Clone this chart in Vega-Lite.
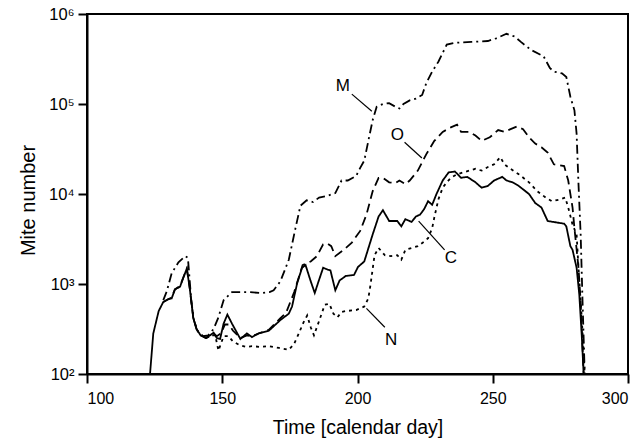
{
  "$schema": "https://vega.github.io/schema/vega-lite/v6.json",
  "autosize": "none",
  "width": 541,
  "height": 360,
  "padding": {"left": 87, "top": 14, "right": 16, "bottom": 65},
  "background": "white",
  "config": {
    "view": {"stroke": "black", "strokeWidth": 2},
    "font": "Liberation Sans",
    "axis": {
      "grid": false,
      "domainColor": "black",
      "domainWidth": 2,
      "tickColor": "black",
      "tickWidth": 2,
      "tickSize": 9,
      "labelColor": "black",
      "labelFont": "Liberation Sans",
      "labelFontSize": 16.5,
      "titleColor": "black",
      "titleFont": "Liberation Sans",
      "titleFontSize": 19.5,
      "titleFontWeight": "normal"
    }
  },
  "datasets": {
    "curves": [
      {"series": "C", "day": 123.3, "mites": 100},
      {"series": "C", "day": 124.5, "mites": 282},
      {"series": "C", "day": 125.7, "mites": 398},
      {"series": "C", "day": 126.5, "mites": 501},
      {"series": "C", "day": 128.2, "mites": 631},
      {"series": "C", "day": 130.0, "mites": 676},
      {"series": "C", "day": 131.3, "mites": 692},
      {"series": "C", "day": 132.5, "mites": 871},
      {"series": "C", "day": 134.4, "mites": 933},
      {"series": "C", "day": 135.6, "mites": 1175},
      {"series": "C", "day": 136.9, "mites": 1479},
      {"series": "C", "day": 138.0, "mites": 891},
      {"series": "C", "day": 139.3, "mites": 417},
      {"series": "C", "day": 140.5, "mites": 316},
      {"series": "C", "day": 142.0, "mites": 269},
      {"series": "C", "day": 144.0, "mites": 251},
      {"series": "C", "day": 145.5, "mites": 269},
      {"series": "C", "day": 146.8, "mites": 288},
      {"series": "C", "day": 148.0, "mites": 251},
      {"series": "C", "day": 149.2, "mites": 245},
      {"series": "C", "day": 150.5, "mites": 363},
      {"series": "C", "day": 151.9, "mites": 457},
      {"series": "C", "day": 153.6, "mites": 363},
      {"series": "C", "day": 156.7, "mites": 245},
      {"series": "C", "day": 159.1, "mites": 282},
      {"series": "C", "day": 161.0, "mites": 257},
      {"series": "C", "day": 163.4, "mites": 282},
      {"series": "C", "day": 167.2, "mites": 302},
      {"series": "C", "day": 171.5, "mites": 398},
      {"series": "C", "day": 174.6, "mites": 468},
      {"series": "C", "day": 175.8, "mites": 562},
      {"series": "C", "day": 177.7, "mites": 1023},
      {"series": "C", "day": 179.5, "mites": 1514},
      {"series": "C", "day": 180.8, "mites": 1622},
      {"series": "C", "day": 182.6, "mites": 1096},
      {"series": "C", "day": 184.2, "mites": 794},
      {"series": "C", "day": 185.5, "mites": 1047},
      {"series": "C", "day": 187.3, "mites": 1514},
      {"series": "C", "day": 189.0, "mites": 1445},
      {"series": "C", "day": 190.0, "mites": 1413},
      {"series": "C", "day": 191.8, "mites": 851},
      {"series": "C", "day": 193.4, "mites": 1096},
      {"series": "C", "day": 195.7, "mites": 1230},
      {"series": "C", "day": 198.7, "mites": 1259},
      {"series": "C", "day": 200.2, "mites": 1549},
      {"series": "C", "day": 202.5, "mites": 1778},
      {"series": "C", "day": 205.6, "mites": 3548},
      {"series": "C", "day": 207.8, "mites": 5623},
      {"series": "C", "day": 209.4, "mites": 6607},
      {"series": "C", "day": 211.7, "mites": 5012},
      {"series": "C", "day": 214.7, "mites": 5012},
      {"series": "C", "day": 216.2, "mites": 4365},
      {"series": "C", "day": 217.7, "mites": 5248},
      {"series": "C", "day": 220.0, "mites": 4898},
      {"series": "C", "day": 221.6, "mites": 5623},
      {"series": "C", "day": 223.1, "mites": 5888},
      {"series": "C", "day": 224.6, "mites": 6761},
      {"series": "C", "day": 226.1, "mites": 8318},
      {"series": "C", "day": 227.6, "mites": 7586},
      {"series": "C", "day": 229.2, "mites": 10000},
      {"series": "C", "day": 231.5, "mites": 14125},
      {"series": "C", "day": 233.7, "mites": 17378},
      {"series": "C", "day": 236.0, "mites": 17783},
      {"series": "C", "day": 238.3, "mites": 15136},
      {"series": "C", "day": 240.6, "mites": 15488},
      {"series": "C", "day": 243.6, "mites": 13490},
      {"series": "C", "day": 245.9, "mites": 11749},
      {"series": "C", "day": 248.2, "mites": 12303},
      {"series": "C", "day": 250.5, "mites": 14125},
      {"series": "C", "day": 253.5, "mites": 15488},
      {"series": "C", "day": 255.1, "mites": 14125},
      {"series": "C", "day": 257.3, "mites": 13490},
      {"series": "C", "day": 259.6, "mites": 12303},
      {"series": "C", "day": 263.4, "mites": 10000},
      {"series": "C", "day": 265.7, "mites": 7943},
      {"series": "C", "day": 268.0, "mites": 7079},
      {"series": "C", "day": 270.3, "mites": 5012},
      {"series": "C", "day": 276.4, "mites": 4677},
      {"series": "C", "day": 277.2, "mites": 4365},
      {"series": "C", "day": 278.7, "mites": 2630},
      {"series": "C", "day": 279.5, "mites": 2399},
      {"series": "C", "day": 281.0, "mites": 1514},
      {"series": "C", "day": 282.0, "mites": 759},
      {"series": "C", "day": 282.9, "mites": 269},
      {"series": "C", "day": 283.6, "mites": 100},

      {"series": "M", "day": 128.2, "mites": 661},
      {"series": "M", "day": 129.5, "mites": 832},
      {"series": "M", "day": 131.3, "mites": 1318},
      {"series": "M", "day": 133.8, "mites": 1738},
      {"series": "M", "day": 136.3, "mites": 2042},
      {"series": "M", "day": 137.3, "mites": 1950},
      {"series": "M", "day": 138.6, "mites": 631},
      {"series": "M", "day": 139.5, "mites": 398},
      {"series": "M", "day": 141.0, "mites": 295},
      {"series": "M", "day": 143.0, "mites": 263},
      {"series": "M", "day": 144.8, "mites": 269},
      {"series": "M", "day": 146.8, "mites": 316},
      {"series": "M", "day": 148.6, "mites": 427},
      {"series": "M", "day": 150.5, "mites": 661},
      {"series": "M", "day": 153.6, "mites": 813},
      {"series": "M", "day": 159.7, "mites": 813},
      {"series": "M", "day": 164.4, "mites": 794},
      {"series": "M", "day": 167.5, "mites": 813},
      {"series": "M", "day": 169.0, "mites": 851},
      {"series": "M", "day": 171.5, "mites": 1072},
      {"series": "M", "day": 174.6, "mites": 1862},
      {"series": "M", "day": 177.0, "mites": 4074},
      {"series": "M", "day": 178.9, "mites": 7413},
      {"series": "M", "day": 181.2, "mites": 8511},
      {"series": "M", "day": 183.5, "mites": 8128},
      {"series": "M", "day": 185.8, "mites": 9120},
      {"series": "M", "day": 188.8, "mites": 9550},
      {"series": "M", "day": 191.8, "mites": 10233},
      {"series": "M", "day": 194.1, "mites": 14125},
      {"series": "M", "day": 196.4, "mites": 14125},
      {"series": "M", "day": 199.5, "mites": 15849},
      {"series": "M", "day": 201.0, "mites": 19498},
      {"series": "M", "day": 202.5, "mites": 23442},
      {"series": "M", "day": 204.0, "mites": 38905},
      {"series": "M", "day": 205.6, "mites": 66069},
      {"series": "M", "day": 207.1, "mites": 93325},
      {"series": "M", "day": 209.4, "mites": 100000},
      {"series": "M", "day": 211.7, "mites": 102329},
      {"series": "M", "day": 214.0, "mites": 93325},
      {"series": "M", "day": 215.5, "mites": 89125},
      {"series": "M", "day": 217.0, "mites": 100000},
      {"series": "M", "day": 219.3, "mites": 109648},
      {"series": "M", "day": 221.6, "mites": 114815},
      {"series": "M", "day": 223.9, "mites": 125893},
      {"series": "M", "day": 225.4, "mites": 169824},
      {"series": "M", "day": 227.6, "mites": 229087},
      {"series": "M", "day": 229.9, "mites": 295121},
      {"series": "M", "day": 233.0, "mites": 457088},
      {"series": "M", "day": 236.0, "mites": 478630},
      {"series": "M", "day": 242.1, "mites": 489779},
      {"series": "M", "day": 248.2, "mites": 501187},
      {"series": "M", "day": 251.3, "mites": 537032},
      {"series": "M", "day": 255.1, "mites": 602560},
      {"series": "M", "day": 258.1, "mites": 562341},
      {"series": "M", "day": 260.4, "mites": 489779},
      {"series": "M", "day": 264.2, "mites": 398107},
      {"series": "M", "day": 268.8, "mites": 338844},
      {"series": "M", "day": 271.1, "mites": 251189},
      {"series": "M", "day": 272.6, "mites": 229087},
      {"series": "M", "day": 275.6, "mites": 218776},
      {"series": "M", "day": 277.2, "mites": 199526},
      {"series": "M", "day": 278.7, "mites": 120226},
      {"series": "M", "day": 280.2, "mites": 85114},
      {"series": "M", "day": 281.0, "mites": 46774},
      {"series": "M", "day": 281.7, "mites": 12882},
      {"series": "M", "day": 282.5, "mites": 3548},
      {"series": "M", "day": 283.2, "mites": 631},
      {"series": "M", "day": 284.0, "mites": 100},

      {"series": "O", "day": 128.2, "mites": 631},
      {"series": "O", "day": 130.0, "mites": 676},
      {"series": "O", "day": 131.3, "mites": 708},
      {"series": "O", "day": 132.5, "mites": 871},
      {"series": "O", "day": 134.4, "mites": 955},
      {"series": "O", "day": 135.6, "mites": 1175},
      {"series": "O", "day": 136.9, "mites": 1479},
      {"series": "O", "day": 138.0, "mites": 891},
      {"series": "O", "day": 139.3, "mites": 417},
      {"series": "O", "day": 140.5, "mites": 316},
      {"series": "O", "day": 142.0, "mites": 269},
      {"series": "O", "day": 144.0, "mites": 251},
      {"series": "O", "day": 145.5, "mites": 263},
      {"series": "O", "day": 146.8, "mites": 282},
      {"series": "O", "day": 148.0, "mites": 263},
      {"series": "O", "day": 149.5, "mites": 282},
      {"series": "O", "day": 151.0, "mites": 355},
      {"series": "O", "day": 152.5, "mites": 355},
      {"series": "O", "day": 154.0, "mites": 302},
      {"series": "O", "day": 156.7, "mites": 251},
      {"series": "O", "day": 159.1, "mites": 269},
      {"series": "O", "day": 161.0, "mites": 263},
      {"series": "O", "day": 163.4, "mites": 282},
      {"series": "O", "day": 167.2, "mites": 309},
      {"series": "O", "day": 171.5, "mites": 417},
      {"series": "O", "day": 173.6, "mites": 479},
      {"series": "O", "day": 176.6, "mites": 813},
      {"series": "O", "day": 179.7, "mites": 1622},
      {"series": "O", "day": 182.7, "mites": 1778},
      {"series": "O", "day": 185.0, "mites": 2042},
      {"series": "O", "day": 187.3, "mites": 2754},
      {"series": "O", "day": 188.8, "mites": 2818},
      {"series": "O", "day": 190.3, "mites": 2630},
      {"series": "O", "day": 191.8, "mites": 2042},
      {"series": "O", "day": 194.9, "mites": 2399},
      {"series": "O", "day": 197.9, "mites": 2884},
      {"series": "O", "day": 201.0, "mites": 3890},
      {"series": "O", "day": 203.3, "mites": 5888},
      {"series": "O", "day": 205.6, "mites": 10715},
      {"series": "O", "day": 207.8, "mites": 15136},
      {"series": "O", "day": 209.4, "mites": 15136},
      {"series": "O", "day": 211.7, "mites": 13490},
      {"series": "O", "day": 214.0, "mites": 13183},
      {"series": "O", "day": 215.5, "mites": 14125},
      {"series": "O", "day": 217.7, "mites": 12882},
      {"series": "O", "day": 219.3, "mites": 14125},
      {"series": "O", "day": 222.3, "mites": 18197},
      {"series": "O", "day": 225.4, "mites": 27542},
      {"series": "O", "day": 228.4, "mites": 38905},
      {"series": "O", "day": 231.5, "mites": 48978},
      {"series": "O", "day": 234.5, "mites": 54954},
      {"series": "O", "day": 236.8, "mites": 58884},
      {"series": "O", "day": 238.3, "mites": 48978},
      {"series": "O", "day": 241.3, "mites": 48978},
      {"series": "O", "day": 243.6, "mites": 44668},
      {"series": "O", "day": 245.9, "mites": 38905},
      {"series": "O", "day": 248.9, "mites": 42658},
      {"series": "O", "day": 252.0, "mites": 51286},
      {"series": "O", "day": 254.3, "mites": 48978},
      {"series": "O", "day": 256.6, "mites": 52481},
      {"series": "O", "day": 258.9, "mites": 56234},
      {"series": "O", "day": 261.2, "mites": 52481},
      {"series": "O", "day": 263.4, "mites": 42658},
      {"series": "O", "day": 265.7, "mites": 36308},
      {"series": "O", "day": 268.0, "mites": 33113},
      {"series": "O", "day": 270.3, "mites": 28840},
      {"series": "O", "day": 272.6, "mites": 21380},
      {"series": "O", "day": 276.4, "mites": 20417},
      {"series": "O", "day": 277.9, "mites": 14125},
      {"series": "O", "day": 279.5, "mites": 7079},
      {"series": "O", "day": 280.2, "mites": 4169},
      {"series": "O", "day": 281.7, "mites": 1514},
      {"series": "O", "day": 282.5, "mites": 631},
      {"series": "O", "day": 283.6, "mites": 100},

      {"series": "N", "day": 144.0, "mites": 251},
      {"series": "N", "day": 145.5, "mites": 269},
      {"series": "N", "day": 147.4, "mites": 269},
      {"series": "N", "day": 148.6, "mites": 182},
      {"series": "N", "day": 150.5, "mites": 263},
      {"series": "N", "day": 152.3, "mites": 263},
      {"series": "N", "day": 154.0, "mites": 229},
      {"series": "N", "day": 156.5, "mites": 209},
      {"series": "N", "day": 159.0, "mites": 200},
      {"series": "N", "day": 161.0, "mites": 204},
      {"series": "N", "day": 164.0, "mites": 200},
      {"series": "N", "day": 167.2, "mites": 204},
      {"series": "N", "day": 171.0, "mites": 195},
      {"series": "N", "day": 174.6, "mites": 186},
      {"series": "N", "day": 176.5, "mites": 214},
      {"series": "N", "day": 178.3, "mites": 282},
      {"series": "N", "day": 180.0, "mites": 372},
      {"series": "N", "day": 181.4, "mites": 447},
      {"series": "N", "day": 182.7, "mites": 331},
      {"series": "N", "day": 183.9, "mites": 269},
      {"series": "N", "day": 185.7, "mites": 380},
      {"series": "N", "day": 187.9, "mites": 589},
      {"series": "N", "day": 189.6, "mites": 603},
      {"series": "N", "day": 191.1, "mites": 468},
      {"series": "N", "day": 192.6, "mites": 427},
      {"series": "N", "day": 194.1, "mites": 490},
      {"series": "N", "day": 195.7, "mites": 501},
      {"series": "N", "day": 199.5, "mites": 513},
      {"series": "N", "day": 202.5, "mites": 562},
      {"series": "N", "day": 204.0, "mites": 692},
      {"series": "N", "day": 204.8, "mites": 977},
      {"series": "N", "day": 206.3, "mites": 2089},
      {"series": "N", "day": 207.8, "mites": 2512},
      {"series": "N", "day": 210.1, "mites": 2089},
      {"series": "N", "day": 212.4, "mites": 2042},
      {"series": "N", "day": 214.7, "mites": 2089},
      {"series": "N", "day": 216.2, "mites": 1862},
      {"series": "N", "day": 217.7, "mites": 2399},
      {"series": "N", "day": 220.0, "mites": 2512},
      {"series": "N", "day": 222.3, "mites": 2630},
      {"series": "N", "day": 224.6, "mites": 2951},
      {"series": "N", "day": 226.1, "mites": 3236},
      {"series": "N", "day": 227.6, "mites": 4169},
      {"series": "N", "day": 228.4, "mites": 5495},
      {"series": "N", "day": 229.9, "mites": 8710},
      {"series": "N", "day": 231.5, "mites": 11749},
      {"series": "N", "day": 233.0, "mites": 13490},
      {"series": "N", "day": 234.5, "mites": 15136},
      {"series": "N", "day": 236.8, "mites": 16596},
      {"series": "N", "day": 239.1, "mites": 17378},
      {"series": "N", "day": 241.3, "mites": 18197},
      {"series": "N", "day": 243.6, "mites": 19055},
      {"series": "N", "day": 245.9, "mites": 18197},
      {"series": "N", "day": 248.2, "mites": 19953},
      {"series": "N", "day": 250.5, "mites": 21380},
      {"series": "N", "day": 252.8, "mites": 25704},
      {"series": "N", "day": 254.3, "mites": 21380},
      {"series": "N", "day": 256.6, "mites": 19055},
      {"series": "N", "day": 259.6, "mites": 16596},
      {"series": "N", "day": 263.4, "mites": 13490},
      {"series": "N", "day": 266.5, "mites": 10715},
      {"series": "N", "day": 269.6, "mites": 9120},
      {"series": "N", "day": 271.8, "mites": 8318},
      {"series": "N", "day": 274.9, "mites": 8710},
      {"series": "N", "day": 276.8, "mites": 9120},
      {"series": "N", "day": 277.9, "mites": 7079},
      {"series": "N", "day": 279.5, "mites": 4571},
      {"series": "N", "day": 281.0, "mites": 3548},
      {"series": "N", "day": 281.7, "mites": 1514},
      {"series": "N", "day": 282.9, "mites": 417},
      {"series": "N", "day": 284.0, "mites": 100}
    ],
    "labels": [
      {"label": "M", "day": 194.6, "mites": 158000},
      {"label": "O", "day": 214.7, "mites": 44700},
      {"label": "C", "day": 234.5, "mites": 1950},
      {"label": "N", "day": 212.4, "mites": 240}
    ],
    "leaders": [
      {"label": "M", "day": 197.9, "mites": 128800, "day2": 205.3, "mites2": 83200},
      {"label": "O", "day": 217.4, "mites": 37600, "day2": 223.8, "mites2": 25100},
      {"label": "C", "day": 222.6, "mites": 5000, "day2": 232.2, "mites2": 2400},
      {"label": "N", "day": 203.3, "mites": 537, "day2": 210.1, "mites2": 331}
    ]
  },
  "layer": [
    {
      "data": {"name": "curves"},
      "mark": {"type": "line", "color": "black", "strokeWidth": 1.8, "clip": true},
      "encoding": {
        "x": {
          "field": "day", "type": "quantitative",
          "scale": {"domain": [100, 300], "nice": false, "zero": false},
          "axis": {"values": [100, 150, 200, 250, 300], "title": "Time [calendar day]", "labelFontSize": 16, "labelPadding": 7, "titlePadding": 12}
        },
        "y": {
          "field": "mites", "type": "quantitative",
          "scale": {"type": "log", "domain": [100, 1000000], "nice": false},
          "axis": {
            "values": [100, 1000, 10000, 100000, 1000000],
            "title": "Mite number",
            "titleFontSize": 20,
            "titleY": 186,
            "labelPadding": 4,
            "titlePadding": 10,
            "labelExpr": "datum.value == 100 ? '10²' : datum.value == 1000 ? '10³' : datum.value == 10000 ? '10⁴' : datum.value == 100000 ? '10⁵' : '10⁶'"
          }
        },
        "strokeDash": {
          "field": "series", "type": "nominal",
          "scale": {"domain": ["C", "M", "N", "O"], "range": [[1, 0], [9, 4, 2, 4], [3, 4], [9, 5]]},
          "legend": null
        },
        "detail": {"field": "series"}
      }
    },
    {
      "data": {"name": "leaders"},
      "mark": {"type": "rule", "color": "black", "strokeWidth": 1.2},
      "encoding": {
        "x": {"field": "day", "type": "quantitative"},
        "y": {"field": "mites", "type": "quantitative"},
        "x2": {"field": "day2"},
        "y2": {"field": "mites2"}
      }
    },
    {
      "data": {"name": "labels"},
      "mark": {"type": "text", "color": "black", "font": "Liberation Sans", "fontSize": 17, "align": "center", "baseline": "middle"},
      "encoding": {
        "x": {"field": "day", "type": "quantitative"},
        "y": {"field": "mites", "type": "quantitative"},
        "text": {"field": "label"}
      }
    }
  ]
}
